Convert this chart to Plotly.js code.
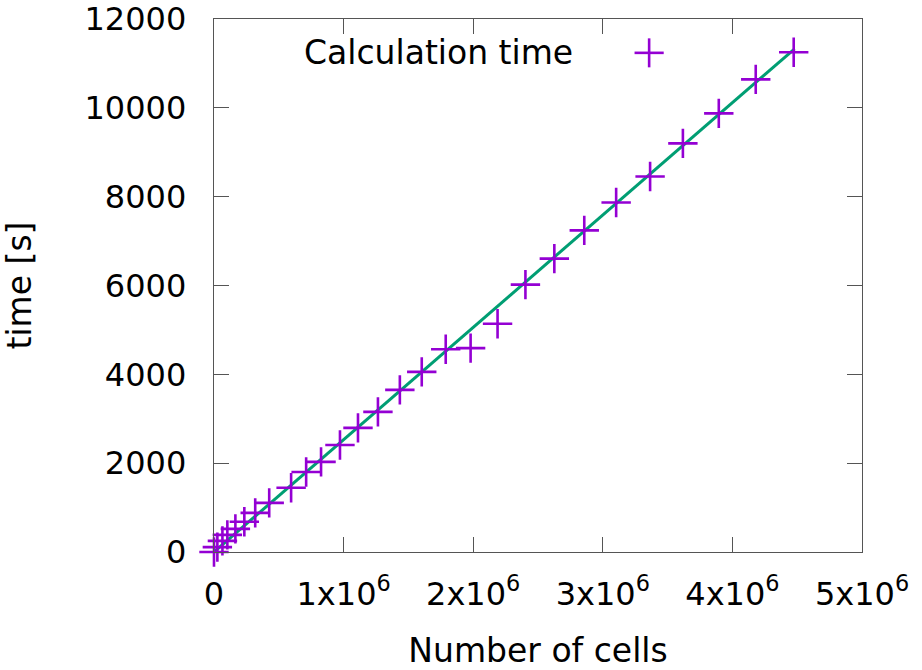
<!DOCTYPE html>
<html>
<head>
<meta charset="utf-8">
<script src="https://cdn.plot.ly/plotly-3.0.1.min.js"></script>
<style>html,body{margin:0;padding:0;background:#fff;}#chart{width:922px;height:670px;}</style>
</head>
<body>
<div id="chart"></div>
<script>
// Measured data: number of cells vs calculation time [s]
const cells = [0, 26000, 65000, 103000, 165000, 234000, 318000, 426000, 595000, 711000,
  826000, 972000, 1111000, 1265000, 1434000, 1603000, 1788000, 1980000, 2188000, 2403000,
  2626000, 2857000, 3103000, 3365000, 3618000, 3895000, 4180000, 4473000];
const times = [0, 110, 250, 385, 520, 680, 880, 1105, 1445, 1800,
  2030, 2410, 2795, 3155, 3650, 4055, 4565, 4590, 5140, 6020,
  6605, 7240, 7870, 8455, 9200, 9875, 10640, 11250];
// Fitted line endpoints
const fitCells = [0, 4480000];
const fitTimes = [0, 11330];
// Tick labels
const xTickVals = [0, 1000000, 2000000, 3000000, 4000000, 5000000];
const xTickText = ['0', '1x10<sup>6</sup>', '2x10<sup>6</sup>', '3x10<sup>6</sup>', '4x10<sup>6</sup>', '5x10<sup>6</sup>'];
const yTickVals = [0, 2000, 4000, 6000, 8000, 10000, 12000];
const yTickText = ['0', '2000', '4000', '6000', '8000', '10000', '12000'];
const legendLabel = 'Calculation time';

const purple = '#9400d3';
const green = '#009e73';
const axisColor = '#555555';
const font = 'DejaVu Sans, sans-serif';

const traces = [
  {
    x: fitCells, y: fitTimes, type: 'scatter', mode: 'lines',
    line: {color: green, width: 3}, showlegend: false, hoverinfo: 'skip'
  },
  {
    x: cells, y: times, type: 'scatter', mode: 'markers', name: legendLabel,
    marker: {symbol: 'cross-thin-open', size: 21, color: purple, line: {color: purple, width: 2.6}},
    showlegend: false, cliponaxis: false
  }
];

const axisCommon = {
  showgrid: false, zeroline: false, showline: true, mirror: 'ticks',
  linecolor: axisColor, linewidth: 1.3,
  ticks: 'inside', ticklen: 15, tickwidth: 1.3, tickcolor: axisColor,
  tickfont: {family: font, size: 32, color: '#000'}
};

const layout = {
  width: 922, height: 670,
  margin: {l: 214, r: 60, t: 19, b: 118},
  paper_bgcolor: '#fff', plot_bgcolor: '#fff',
  font: {family: font, color: '#000'},
  xaxis: Object.assign({}, axisCommon, {
    range: [0, 5000000], tickmode: 'array', tickvals: xTickVals, ticktext: xTickText,
    ticklabelstandoff: 13,
    title: {text: 'Number of cells', font: {family: font, size: 33, color: '#000'}, standoff: 30},
    automargin: false
  }),
  yaxis: Object.assign({}, axisCommon, {
    range: [0, 12000], tickmode: 'array', tickvals: yTickVals, ticktext: yTickText,
    ticklabelstandoff: 20,
    title: {text: 'time [s]', font: {family: font, size: 33, color: '#000'}, standoff: 46},
    automargin: false
  }),
  showlegend: false,
  annotations: [{
    xref: 'paper', yref: 'paper', x: 0.557, y: 0.9375, xanchor: 'right', yanchor: 'middle',
    text: legendLabel, showarrow: false, font: {family: font, size: 33, color: '#000'}
  }],
  shapes: [
    {type: 'line', xref: 'paper', yref: 'paper', x0: 0.649, x1: 0.694, y0: 0.9365, y1: 0.9365,
      line: {color: purple, width: 2.6}},
    {type: 'line', xref: 'paper', yref: 'paper', x0: 0.6715, x1: 0.6715, y0: 0.9093, y1: 0.9637,
      line: {color: purple, width: 2.6}}
  ]
};

Plotly.newPlot('chart', traces, layout, {displayModeBar: false, staticPlot: true});
</script>
</body>
</html>
